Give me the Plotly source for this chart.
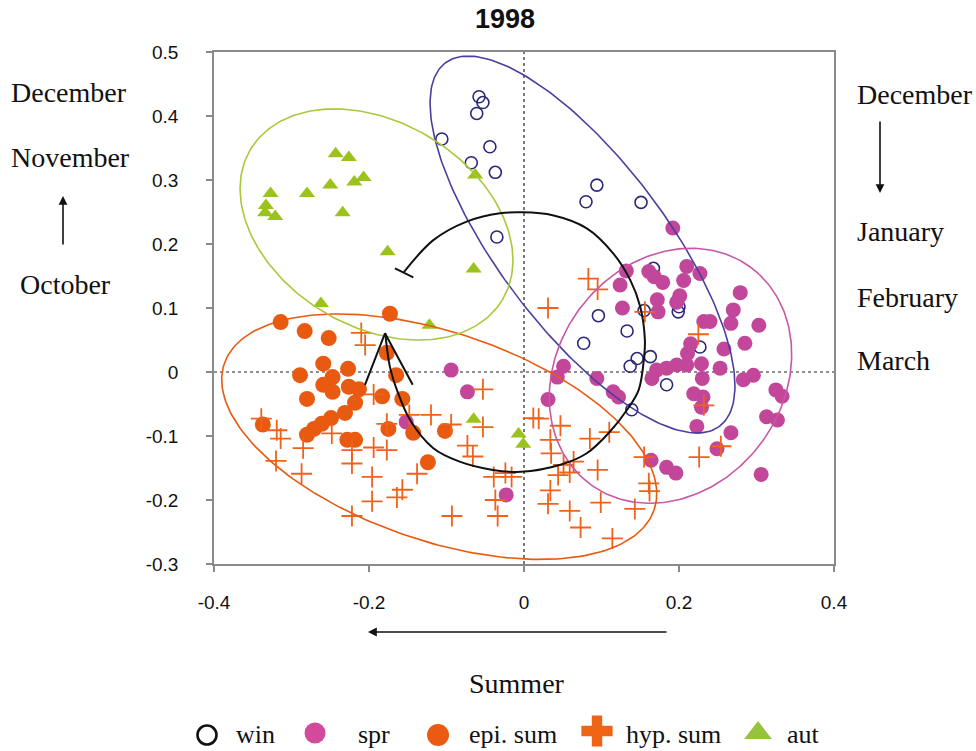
import numpy as np
import plotly.graph_objects as go

# ---------------- data ----------------
win_x = [-0.058, -0.053, -0.061, -0.106, -0.044, -0.068, -0.037, -0.035, 0.094, 0.080, 0.151, 0.167,
         0.155, 0.200, 0.199, 0.096, 0.133, 0.077, 0.146, 0.163, 0.137, 0.227, 0.184, 0.139]
win_y = [0.430, 0.421, 0.404, 0.364, 0.352, 0.327, 0.312, 0.211, 0.292, 0.266, 0.265, 0.162,
         0.096, 0.102, 0.094, 0.088, 0.064, 0.045, 0.021, 0.024, 0.009, 0.039, -0.020, -0.059]

spr_x = [0.192, 0.132, 0.161, 0.168, 0.179, 0.124, 0.210, 0.227, 0.206, 0.172, 0.201, 0.197, 0.127,
         0.173, 0.279, 0.270, 0.232, 0.240, 0.267, 0.303, 0.285, 0.258, 0.215, 0.211, 0.229, 0.253,
         0.210, 0.197, 0.184, 0.171, 0.165, 0.230, 0.283, 0.296, 0.325, 0.333, 0.219, 0.231, 0.229,
         0.313, 0.327, 0.223, 0.267, 0.249, 0.164, 0.184, 0.196, 0.306, 0.094, 0.115, 0.122, 0.051,
         0.043, 0.031, -0.094, -0.073, -0.152, -0.023]
spr_y = [0.225, 0.158, 0.157, 0.149, 0.140, 0.136, 0.165, 0.154, 0.143, 0.113, 0.119, 0.109, 0.100,
         0.094, 0.124, 0.097, 0.079, 0.079, 0.076, 0.073, 0.045, 0.036, 0.044, 0.029, 0.013, 0.006,
         0.011, 0.011, 0.006, 0.003, -0.010, -0.010, -0.012, -0.005, -0.028, -0.038, -0.034, -0.039,
         -0.055, -0.070, -0.075, -0.085, -0.095, -0.120, -0.138, -0.149, -0.158, -0.160, -0.010,
         -0.031, -0.039, 0.009, -0.008, -0.043, 0.003, -0.031, -0.078, -0.192]

epi_x = [-0.314, -0.283, -0.252, -0.173, -0.177, -0.259, -0.227, -0.289, -0.247, -0.165, -0.259,
         -0.247, -0.226, -0.213, -0.183, -0.157, -0.280, -0.218, -0.231, -0.249, -0.261, -0.271,
         -0.280, -0.337, -0.175, -0.143, -0.228, -0.218, -0.102, -0.124]
epi_y = [0.078, 0.064, 0.053, 0.091, 0.030, 0.013, 0.005, -0.005, -0.008, -0.005, -0.020, -0.031,
         -0.023, -0.027, -0.038, -0.042, -0.042, -0.048, -0.064, -0.072, -0.081, -0.089, -0.098,
         -0.082, -0.089, -0.095, -0.106, -0.106, -0.092, -0.141]

hyp_x = [-0.210, -0.205, -0.194, -0.339, -0.319, -0.314, -0.248, -0.148, -0.120, -0.094,
         -0.053, -0.053, -0.285, -0.320, -0.287, -0.222, -0.222, -0.194, -0.177, -0.196,
         -0.138, -0.157, -0.164, -0.196, -0.222, -0.093, -0.073, -0.066, -0.039, -0.024,
         -0.016, -0.037, -0.034, 0.083, 0.095, 0.031, 0.156, 0.225, 0.012, 0.019,
         0.047, 0.034, 0.085, 0.110, 0.035, 0.051, 0.064, 0.059, 0.044, 0.034,
         0.095, 0.155, 0.161, 0.162, 0.031, 0.059, 0.099, 0.143, 0.073, 0.114,
         0.232, 0.254, 0.226, -0.177]
hyp_y = [0.061, 0.042, -0.035, -0.073, -0.091, -0.104, -0.096, -0.067, -0.067, -0.082,
         -0.086, -0.027, -0.119, -0.139, -0.159, -0.122, -0.143, -0.118, -0.122, -0.164,
         -0.159, -0.184, -0.196, -0.202, -0.225, -0.225, -0.115, -0.132, -0.164, -0.158,
         -0.164, -0.200, -0.225, 0.146, 0.129, 0.100, 0.094, 0.059, -0.072, -0.073,
         -0.084, -0.106, -0.104, -0.094, -0.127, -0.145, -0.140, -0.157, -0.161, -0.185,
         -0.153, -0.133, -0.174, -0.186, -0.206, -0.217, -0.204, -0.214, -0.243, -0.260,
         -0.052, -0.116, -0.133, -0.081]

aut_x = [-0.243, -0.226, -0.327, -0.280, -0.250, -0.219, -0.207, -0.333, -0.334, -0.321, -0.234,
         -0.063, -0.176, -0.065, -0.262, -0.122, -0.065, -0.007, -0.001]
aut_y = [0.341, 0.335, 0.279, 0.279, 0.292, 0.297, 0.304, 0.260, 0.249, 0.243, 0.249,
         0.308, 0.188, 0.161, 0.107, 0.073, -0.074, -0.097, -0.113]

# ellipse parameters: centre x, centre y, semi-axis a, semi-axis b (y units), angle (deg)
ell_win = (0.0755, 0.1992, 0.3556, 0.1305, -52.95)
ell_spr = (0.1890, -0.0059, 0.2108, 0.1764, 53.35)
ell_epi = (-0.1094, -0.1011, 0.3547, 0.1627, -18.78)
ell_aut = (-0.1903, 0.2305, 0.2292, 0.1597, -30.8)

# seasonal trajectory (black curve)
traj_x = [-0.155, -0.117, -0.074, -0.031, -0.003, 0.037, 0.081, 0.115, 0.137, 0.150, 0.156, 0.155,
          0.148, 0.133, 0.111, 0.081, 0.047, -0.004, -0.040, -0.083, -0.117, -0.147, -0.164,
          -0.173, -0.179]
traj_y = [0.156, 0.206, 0.235, 0.248, 0.2495, 0.245, 0.2245, 0.1855, 0.144, 0.102, 0.050, 0.024,
          -0.028, -0.059, -0.093, -0.127, -0.145, -0.156, -0.153, -0.140, -0.119, -0.075, -0.028,
          0.008, 0.0605]
head_x = [-0.2052, -0.1794, -0.1436]
head_y = [-0.020, 0.0605, -0.020]
tbar_x = [-0.1665, -0.1428]
tbar_y = [0.162, 0.148]

x_ticks = [-0.4, -0.2, 0, 0.2, 0.4]
x_ticktext = ["-0.4", "-0.2", "0", "0.2", "0.4"]
y_ticks = [-0.3, -0.2, -0.1, 0, 0.1, 0.2, 0.3, 0.4, 0.5]
y_ticktext = ["-0.3", "-0.2", "-0.1", "0", "0.1", "0.2", "0.3", "0.4", "0.5"]

legend_names = ["win", "spr", "epi. sum", "hyp. sum", "aut"]

# ---------------- styling ----------------
W, H = 976, 751
C_WIN = "#2b2877"
C_WIN_ELL = "#4b3f9e"
C_SPR = "#c2479b"
C_SPR_ELL = "#c957a6"
C_EPI = "#e85a10"
C_HYP = "#f0621a"
C_AUT = "#9cc21e"
C_AUT_ELL = "#a8c93a"
SERIF = "Liberation Serif, Times New Roman, serif"
SANS = "Liberation Sans, Arial, sans-serif"

# plot area in pixels
PL, PR, PT, PB = 214, 834, 52, 564
xr = [-0.4, 0.4]
yr = [-0.3, 0.5]
K = ((PR - PL) / (xr[1] - xr[0])) / ((PB - PT) / (yr[1] - yr[0]))


def ellipse(p):
    cx, cy, a, b, ang = p
    t = np.linspace(0, 2 * np.pi, 240)
    th = np.deg2rad(ang)
    u = a * np.cos(t) * np.cos(th) - b * np.sin(t) * np.sin(th)
    v = a * np.cos(t) * np.sin(th) + b * np.sin(t) * np.cos(th)
    return cx + u / K, cy + v


fig = go.Figure()

# zero reference lines
fig.add_trace(go.Scatter(x=[0, 0], y=yr, mode="lines",
                         line=dict(color="#222", width=1.2, dash="dot"), showlegend=False, hoverinfo="skip"))
fig.add_trace(go.Scatter(x=xr, y=[0, 0], mode="lines",
                         line=dict(color="#222", width=1.2, dash="dot"), showlegend=False, hoverinfo="skip"))

# markers
fig.add_trace(go.Scatter(x=win_x, y=win_y, mode="markers", name="win",
                         marker=dict(symbol="circle-open", size=12, color=C_WIN, line=dict(width=1.6, color=C_WIN))))
fig.add_trace(go.Scatter(x=spr_x, y=spr_y, mode="markers", name="spr",
                         marker=dict(symbol="circle", size=15, color=C_SPR)))
fig.add_trace(go.Scatter(x=epi_x, y=epi_y, mode="markers", name="epi. sum",
                         marker=dict(symbol="circle", size=16, color=C_EPI)))
fig.add_trace(go.Scatter(x=hyp_x, y=hyp_y, mode="markers", name="hyp. sum",
                         marker=dict(symbol="cross-thin-open", size=15, color=C_HYP,
                                     line=dict(width=1.8, color=C_HYP))))
fig.add_trace(go.Scatter(x=aut_x, y=aut_y, mode="markers", name="aut",
                         marker=dict(symbol="triangle-up", size=14, color=C_AUT)))

# ellipses
for p, c in [(ell_win, C_WIN_ELL), (ell_spr, C_SPR_ELL), (ell_epi, C_EPI), (ell_aut, C_AUT_ELL)]:
    ex, ey = ellipse(p)
    fig.add_trace(go.Scatter(x=ex, y=ey, mode="lines", line=dict(color=c, width=1.6),
                             showlegend=False, hoverinfo="skip"))

# trajectory
fig.add_trace(go.Scatter(x=traj_x, y=traj_y, mode="lines", line=dict(color="#111", width=2, shape="spline"),
                         showlegend=False, hoverinfo="skip"))
fig.add_trace(go.Scatter(x=head_x, y=head_y, mode="lines", line=dict(color="#111", width=2),
                         showlegend=False, hoverinfo="skip"))
fig.add_trace(go.Scatter(x=tbar_x, y=tbar_y, mode="lines", line=dict(color="#111", width=2),
                         showlegend=False, hoverinfo="skip"))

# manual legend on a full-figure overlay axis (pixel units)
leg_sym_x = [207, 315, 438, 597, 758]
leg_sym_y = [735, 733, 735, 731, 733]
leg_txt_x = [235, 357, 468, 625, 786]
leg_symbols = ["circle-open", "circle", "circle", "cross", "triangle-up"]
leg_colors = ["#111111", "#d24a9c", "#ea5a12", "#ef6414", "#97c23c"]
leg_sizes = [19, 21, 22, 26, 24]
for i in range(5):
    fig.add_trace(go.Scatter(x=[leg_sym_x[i]], y=[leg_sym_y[i]], xaxis="x2", yaxis="y2", mode="markers",
                             marker=dict(symbol=leg_symbols[i], size=leg_sizes[i], color=leg_colors[i],
                                         line=dict(width=2.6 if i == 0 else 0, color=leg_colors[i])),
                             showlegend=False, hoverinfo="skip", cliponaxis=False))

annotations = []
for i in range(5):
    annotations.append(dict(x=leg_txt_x[i] / W, y=1 - 734 / H, xref="paper", yref="paper",
                            text=legend_names[i], showarrow=False, xanchor="left", yanchor="middle",
                            borderpad=0, font=dict(family=SERIF, size=26, color="#111")))

# title
annotations.append(dict(x=505 / W, y=1 - 19 / H, xref="paper", yref="paper", text="<b>1998</b>",
                        showarrow=False, xanchor="center", yanchor="middle",
                        font=dict(family=SANS, size=27, color="#111")))

# month labels
for txt, x, y in [("December", 69, 92), ("November", 70, 157), ("October", 65, 284)]:
    annotations.append(dict(x=x / W, y=1 - y / H, xref="paper", yref="paper", text=txt, showarrow=False,
                            xanchor="center", yanchor="middle", font=dict(family=SERIF, size=28, color="#111")))
for txt, y in [("December", 94), ("January", 232), ("February", 297), ("March", 360)]:
    annotations.append(dict(x=855 / W, y=1 - y / H, xref="paper", yref="paper", text=txt, showarrow=False,
                            xanchor="left", yanchor="middle", font=dict(family=SERIF, size=28, color="#111")))
annotations.append(dict(x=517 / W, y=1 - 683 / H, xref="paper", yref="paper", text="Summer", showarrow=False,
                        xanchor="center", yanchor="middle", font=dict(family=SERIF, size=28, color="#111")))

# arrows (head x,y ; tail offset ax, ay in px)
for hx, hy, ax, ay in [(63, 196, 0, 50), (880, 193, 0, -73), (368, 632, 300, 0)]:
    annotations.append(dict(x=hx / W, y=1 - hy / H, xref="paper", yref="paper", text="", showarrow=True,
                            ax=ax, ay=ay, arrowhead=2, arrowsize=1.1, arrowwidth=1.6, arrowcolor="#111",
                            standoff=0, startstandoff=0))

axis_common = dict(showline=True, mirror=True, linecolor="#8a8a8a", linewidth=1.5,
                   ticks="outside", ticklen=6, tickcolor="#8a8a8a", tickwidth=1.5,
                   showgrid=False, zeroline=False, automargin=False,
                   tickfont=dict(family=SANS, size=19, color="#111"))

fig.update_layout(
    width=W, height=H,
    margin=dict(l=0, r=0, t=0, b=0, pad=0, autoexpand=False),
    paper_bgcolor="white", plot_bgcolor="rgba(0,0,0,0)",
    showlegend=False,
    xaxis=dict(domain=[PL / W, PR / W], range=xr, tickvals=x_ticks, ticktext=x_ticktext, anchor="y",
               ticklabelstandoff=14, **axis_common),
    yaxis=dict(domain=[1 - PB / H, 1 - PT / H], range=yr, tickvals=y_ticks, ticktext=y_ticktext, anchor="x",
               ticklabelstandoff=24, **axis_common),
    xaxis2=dict(domain=[0, 1], range=[0, W], visible=False, anchor="y2", fixedrange=True),
    yaxis2=dict(domain=[0, 1], range=[H, 0], visible=False, anchor="x2", fixedrange=True),
    annotations=annotations,
)

fig.write_html("out.html")
